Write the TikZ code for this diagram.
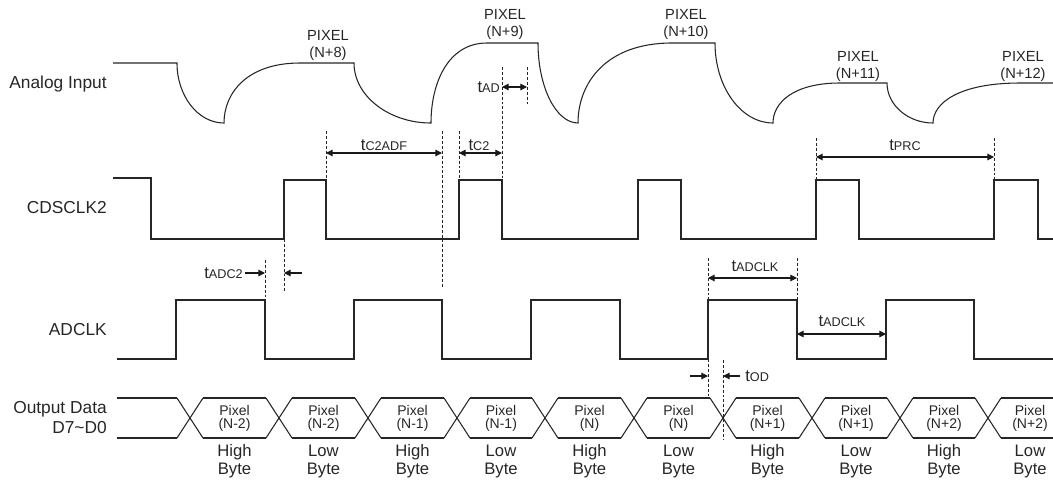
\documentclass[tikz,border=0pt]{standalone}
\usepackage{fontspec}
\setmainfont{Liberation Sans}
\usetikzlibrary{arrows.meta}
\newcommand\tsb[1]{t{\fontsize{9.5}{10}\selectfont #1}}
\begin{document}
\begin{tikzpicture}[x=0.75pt,y=-0.75pt,
  wave/.style={draw=black!85, line width=0.8pt, line join=miter},
  guide/.style={draw=black!85, line width=0.6pt, dash pattern=on 2.2pt off 1.5pt},
  dim/.style={draw=black!90, line width=0.8pt, {Triangle[length=5pt,width=5pt]}-{Triangle[length=5pt,width=5pt]}},
  arrR/.style={draw=black!90, line width=0.8pt, -{Triangle[length=5pt,width=5pt]}},
  sig/.style={font=\fontsize{13}{15}\selectfont, anchor=east, align=right, inner sep=0pt, text=black!85},
  pix/.style={font=\fontsize{11}{12.75}\selectfont, align=center, inner sep=0pt, text=black!85},
  dat/.style={font=\fontsize{10.5}{9.75}\selectfont, align=center, inner sep=0pt, text=black!85},
  byt/.style={font=\fontsize{12.5}{13.5}\selectfont, align=center, inner sep=0pt, text=black!85},
  tl/.style={font=\fontsize{12.5}{14}\selectfont, inner sep=0pt, text=black!85},
]
\path[use as bounding box] (0,0) rectangle (1053,483);

% signal names
\node[sig] (lAI) at (107,84) {Analog Input};
\node[sig] (lCDS) at (107,208) {CDSCLK2};
\node[sig] (lADC) at (107,330) {ADCLK};
\node[sig] (lOD) at (107,417.5) {Output Data\\D7\textasciitilde D0};

% analog input
\draw[wave] (113,63) -- (177,63)
  .. controls (177,96) and (198,123) .. (224,123)
  .. controls (224,93) and (247,63) .. (300,63) -- (354,63)
  .. controls (354,96) and (389,123) .. (431,123)
  .. controls (431,83) and (448,43) .. (487,43) -- (538,43)
  .. controls (538,87) and (556,123) .. (578,123)
  .. controls (578,83) and (606,43) .. (672,43) -- (715,43)
  .. controls (715,87) and (741,123) .. (773,123)
  .. controls (773,103) and (793,83) .. (840,83) -- (887,83)
  .. controls (887,105) and (908,123) .. (933,123)
  .. controls (933,103) and (959,83) .. (1020,83) -- (1053,83);

\node[pix] (p8) at (328,45.5) {PIXEL\\(N+8)};
\node[pix] (p9) at (505,24) {PIXEL\\(N+9)};
\node[pix] (p10) at (686,24) {PIXEL\\(N+10)};
\node[pix] (p11) at (858,66) {PIXEL\\(N+11)};
\node[pix] (p12) at (1023,66) {PIXEL\\(N+12)};

% CDSCLK2
\draw[wave] (113,178) -- (151,178) -- (151,239) -- (284,239) -- (284,180) -- (326,180) -- (326,239)
  -- (459,239) -- (459,180) -- (502,180) -- (502,239) -- (638,239) -- (638,180) -- (681,180) -- (681,239)
  -- (816,239) -- (816,180) -- (859,180) -- (859,239) -- (994,239) -- (994,180) -- (1038,180) -- (1038,239) -- (1053,239);

% ADCLK
\draw[wave] (117,359) -- (176,359) -- (176,300) -- (265,300) -- (265,359) -- (354,359) -- (354,300) -- (442,300)
  -- (442,359) -- (531,359) -- (531,300) -- (620,300) -- (620,359) -- (708,359) -- (708,300) -- (797,300)
  -- (797,359) -- (886,359) -- (886,300) -- (974,300) -- (974,359) -- (1053,359);

% data bus
\draw[wave] (117,398) -- (177,398);
\draw[wave] (117,438) -- (177,438);
\foreach \c in {190,279,368,457,545,634,723,812,900,988}{
  \draw[wave] (\c-13,398) -- (\c+13,438);
  \draw[wave] (\c-13,438) -- (\c+13,398);
}
\foreach \a/\b in {190/279,279/368,368/457,457/545,545/634,634/723,723/812,812/900,900/988}{
  \draw[wave] (\a+13,398) -- (\b-13,398);
  \draw[wave] (\a+13,438) -- (\b-13,438);
}
\draw[wave] (1001,398) -- (1053,398);
\draw[wave] (1001,438) -- (1053,438);

\foreach \x/\n/\hl [count=\i] in {234.5/N-2/High, 323.5/N-2/Low, 412.5/N-1/High, 501/N-1/Low, 589.5/N/High,
  678.5/N/Low, 767.5/N+1/High, 856/N+1/Low, 944/N+2/High, 1030/N+2/Low}{
  \node[dat] (d\i) at (\x,418.5) {Pixel\\(\n)};
  \node[byt] (b\i) at (\x,461) {\hl\\Byte};
}

% guides
\draw[guide] (326,131) -- (326,180);
\draw[guide] (442,131) -- (442,287);
\draw[guide] (459,131) -- (459,180);
\draw[guide] (502,67) -- (502,180);
\draw[guide] (527,67) -- (527,105);
\draw[guide] (816,138) -- (816,180);
\draw[guide] (994,138) -- (994,180);
\draw[guide] (265,260) -- (265,300);
\draw[guide] (284,239) -- (284,292);
\draw[guide] (708,258) -- (708,300);
\draw[guide] (708,359) -- (708,398);
\draw[guide] (797,258) -- (797,300);
\draw[guide] (723,360) -- (723,440);

% dimensions
\draw[dim] (326,153) -- (442,153);
\node[tl] (tc2adf) at (384,145) {\tsb{C2ADF}};
\draw[dim] (459,153) -- (502,153);
\node[tl] (tc2) at (479,145) {\tsb{C2}};
\draw[dim] (502,87) -- (527,87);
\node[tl, anchor=east] (tad) at (500,87) {\tsb{AD}};
\draw[dim] (816,157) -- (994,157);
\node[tl] (tprc) at (905,145) {\tsb{PRC}};
\draw[arrR] (245,273) -- (265,273);
\draw[arrR] (302,273) -- (284,273);
\node[tl, anchor=east] (tadc2) at (243,273) {\tsb{ADC2}};
\draw[dim] (708,278) -- (797,278);
\node[tl] (tadclk1) at (755,266) {\tsb{ADCLK}};
\draw[dim] (797,334) -- (886,334);
\node[tl] (tadclk2) at (842,321) {\tsb{ADCLK}};
\draw[arrR] (690,376) -- (708,376);
\draw[arrR] (740,376) -- (723,376);
\node[tl, anchor=west] (tod) at (745,376) {\tsb{OD}};
\end{tikzpicture}
\end{document}
